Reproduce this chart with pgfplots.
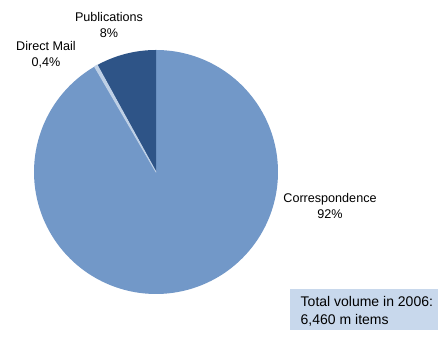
\documentclass[border=0pt]{standalone}
\usepackage{fontspec}
\setmainfont{Liberation Sans}
\usepackage{pgfplots}
\usepackage{pgfplotstable}
\pgfplotsset{compat=1.18}
\definecolor{corr}{RGB}{114,152,200}
\definecolor{pub}{RGB}{46,84,135}
\definecolor{dm}{RGB}{190,208,230}
\definecolor{boxfill}{RGB}{200,216,236}
\pgfplotstableread{
label value
Correspondence 91.6
DirectMail 0.4
Publications 8.0
}\piedata
\begin{document}
\begin{tikzpicture}
\pgfplotstablegetelem{0}{value}\of\piedata \let\vA=\pgfplotsretval
\pgfplotstablegetelem{1}{value}\of\piedata \let\vB=\pgfplotsretval
\pgfplotstablegetelem{2}{value}\of\piedata \let\vC=\pgfplotsretval
\pgfmathsetmacro{\aA}{90-3.6*\vA}
\pgfmathsetmacro{\aB}{\aA-3.6*\vB}
\pgfmathsetmacro{\aC}{\aB-3.6*\vC}
\begin{axis}[
  scale only axis, width=438pt, height=339pt,
  xmin=0, xmax=438, ymin=0, ymax=339,
  hide axis, clip=false,
  every axis plot/.append style={line join=round},
]
\path[fill=white] (axis cs:0,0) rectangle (axis cs:438,339);
\addplot[draw=none, fill=corr, domain=\aA:90, samples=180, variable=\t]
  ({156+122*cos(t)},{167+122*sin(t)}) -- (axis cs:156,167) -- cycle;
\addplot[draw=none, fill=pub, domain=\aC:\aB, samples=40, variable=\t]
  ({156+122*cos(t)},{167+122*sin(t)}) -- (axis cs:156,167) -- cycle;
\addplot[draw=dm, line width=0.9pt, fill=dm, domain=\aB:\aA, samples=5, variable=\t]
  ({156+122*cos(t)},{167+122*sin(t)}) -- (axis cs:156,167) -- cycle;
\node[align=center, font=\fontsize{12.6}{16}\selectfont, inner sep=0pt] at (axis cs:109,314) {Publications\\8\%};
\node[align=center, font=\fontsize{12.6}{16}\selectfont, inner sep=0pt] at (axis cs:46,284.5) {Direct Mail\\0,4\%};
\node[align=center, font=\fontsize{12.6}{16}\selectfont, inner sep=0pt] at (axis cs:330,133) {Correspondence\\92\%};
\fill[boxfill] (axis cs:290,9) rectangle (axis cs:438,50);
\node[align=left, anchor=west, font=\fontsize{14}{18}\selectfont, inner sep=0pt] at (axis cs:300.5,28) {Total volume in 2006:\\6,460 m items};
\end{axis}
\end{tikzpicture}
\end{document}
